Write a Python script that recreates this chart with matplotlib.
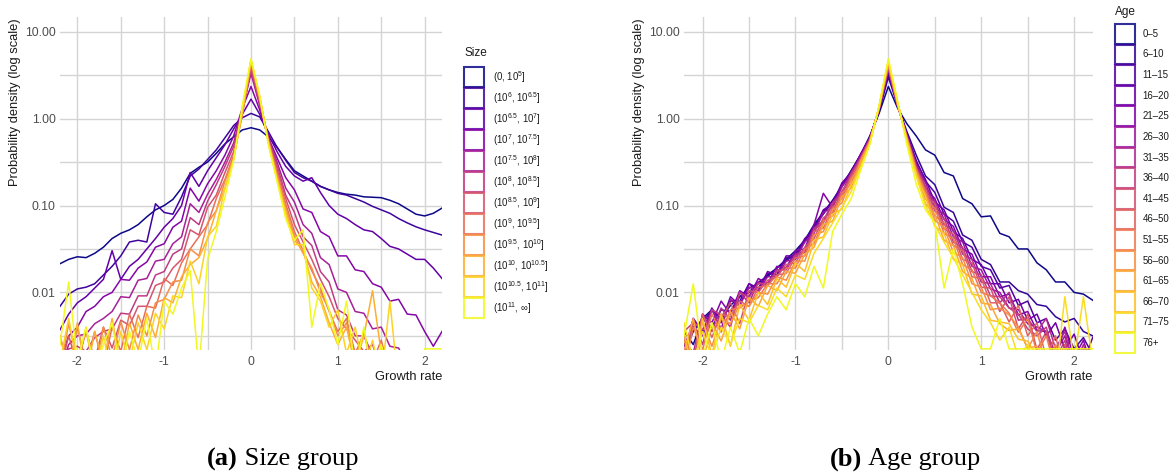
import numpy as np
import matplotlib
matplotlib.use("Agg")
import matplotlib.pyplot as plt
from matplotlib.patches import Rectangle
from matplotlib.ticker import NullFormatter

plt.rcParams['font.family'] = ['Liberation Sans', 'DejaVu Sans']
plt.rcParams['axes.unicode_minus'] = False
plt.rcParams['mathtext.default'] = 'regular'

# ---------------- data (log10 of probability density) ----------------
growth_rate = [-2.2, -2.1, -2.0, -1.9, -1.8, -1.7, -1.6, -1.5, -1.4, -1.3, -1.2,
               -1.1, -1.0, -0.9, -0.8, -0.7, -0.6, -0.5, -0.4, -0.3, -0.2, -0.1,
               0.0,
               0.1, 0.2, 0.3, 0.4, 0.5, 0.6, 0.7, 0.8, 0.9, 1.0, 1.1,
               1.2, 1.3, 1.4, 1.5, 1.6, 1.7, 1.8, 1.9, 2.0, 2.1, 2.2]

size_labels = [r'(0, 10$^{5}$]', r'(10$^{6}$, 10$^{6.5}$]', r'(10$^{6.5}$, 10$^{7}$]',
               r'(10$^{7}$, 10$^{7.5}$]', r'(10$^{7.5}$, 10$^{8}$]', r'(10$^{8}$, 10$^{8.5}$]',
               r'(10$^{8.5}$, 10$^{9}$]', r'(10$^{9}$, 10$^{9.5}$]', r'(10$^{9.5}$, 10$^{10}$]',
               r'(10$^{10}$, 10$^{10.5}$]', r'(10$^{10.5}$, 10$^{11}$]', r'(10$^{11}$, ∞]']

size_g01 = [-1.67, -1.62, -1.59, -1.60, -1.55, -1.48, -1.38, -1.32, -1.28, -1.22, -1.13,
            -1.05, -1.00, -0.93, -0.80, -0.63, -0.56, -0.50, -0.40, -0.29, -0.21, -0.13,
            -0.105,
            -0.13, -0.21, -0.33, -0.47, -0.60, -0.66, -0.72, -0.78, -0.82, -0.85, -0.87,
            -0.88, -0.90, -0.905, -0.91, -0.94, -0.98, -1.04, -1.10, -1.12, -1.09, -1.03]
size_g02 = [-2.16, -2.02, -1.96, -1.94, -1.90, -1.80, -1.70, -1.58, -1.42, -1.40, -1.42,
            -0.98, -1.08, -1.10, -0.90, -0.66, -0.58, -0.47, -0.36, -0.22, -0.08, 0.01,
            0.06,
            0.02, -0.15, -0.33, -0.48, -0.62, -0.68, -0.72, -0.78, -0.82, -0.86, -0.88,
            -0.92, -0.96, -1.01, -1.05, -1.09, -1.15, -1.20, -1.245, -1.28, -1.31, -1.34]
size_g03 = [-2.43, -2.25, -2.12, -2.05, -1.95, -1.85, -1.52, -1.85, -1.70, -1.62, -1.50,
            -1.38, -1.25, -1.15, -1.00, -0.62, -0.78, -0.60, -0.45, -0.30, -0.12, 0.05,
            0.225,
            0.05, -0.18, -0.38, -0.55, -0.66, -0.72, -0.68, -0.85, -1.00, -1.10, -1.15,
            -1.22, -1.28, -1.30, -1.38, -1.47, -1.50, -1.56, -1.62, -1.62, -1.72, -1.84]
size_g04 = [-2.80, -2.50, -2.40, -2.22, -2.16, -2.05, -2.00, -1.85, -1.86, -1.72, -1.65,
            -1.48, -1.44, -1.25, -1.18, -0.80, -0.95, -0.75, -0.60, -0.42, -0.20, 0.12,
            0.37,
            0.10, -0.22, -0.45, -0.68, -0.82, -1.04, -1.08, -1.30, -1.36, -1.58, -1.58,
            -1.74, -1.76, -1.90, -1.94, -2.10, -2.08, -2.25, -2.26, -2.45, -2.62, -2.45]
size_g05 = [-2.90, -2.60, -2.50, -2.48, -2.36, -2.30, -2.22, -2.05, -2.06, -1.86, -1.84,
            -1.64, -1.62, -1.44, -1.36, -0.98, -1.08, -0.87, -0.70, -0.50, -0.28, 0.10,
            0.52,
            0.15, -0.22, -0.50, -0.80, -0.96, -1.22, -1.32, -1.60, -1.68, -1.96, -2.00,
            -2.22, -2.24, -2.42, -2.40, -2.62, -2.64, -2.84, -2.95, -3.10, -3.20, -3.30]
size_g06 = [-3.00, -2.65, -2.62, -2.68, -2.52, -2.45, -2.42, -2.24, -2.25, -2.04, -2.04,
            -1.80, -1.76, -1.56, -1.50, -1.14, -1.22, -0.95, -0.76, -0.55, -0.32, 0.08,
            0.56,
            0.18, -0.22, -0.54, -0.88, -1.08, -1.36, -1.46, -1.76, -1.88, -2.20, -2.26,
            -2.50, -2.50, -2.72, -2.76, -3.00, -3.10, -3.20, -3.30, -3.40, -3.50, -3.60]
size_g07 = [-2.90, -2.50, -2.84, -2.44, -2.78, -2.40, -2.64, -2.32, -2.38, -2.16, -2.16,
            -1.92, -1.88, -1.72, -1.62, -1.28, -1.34, -1.02, -0.88, -0.62, -0.38, 0.06,
            0.60,
            0.20, -0.24, -0.58, -0.92, -1.22, -1.42, -1.62, -1.85, -2.05, -2.30, -2.42,
            -2.55, -2.68, -2.60, -2.90, -3.10, -3.20, -3.30, -3.40, -3.50, -3.60, -3.70]
size_g08 = [-2.50, -2.88, -2.40, -2.82, -2.45, -2.86, -2.40, -2.68, -2.25, -2.52, -2.16,
            -2.18, -1.84, -1.92, -1.66, -1.50, -1.36, -1.22, -0.92, -0.70, -0.42, 0.05,
            0.64,
            0.22, -0.25, -0.62, -0.98, -1.30, -1.52, -1.75, -1.95, -2.22, -2.45, -2.30,
            -2.70, -2.48, -2.80, -2.55, -2.95, -3.20, -3.30, -3.40, -3.50, -3.60, -3.70]
size_g09 = [-2.90, -2.36, -2.78, -2.44, -2.92, -2.40, -2.76, -2.34, -2.66, -2.26, -2.50,
            -2.12, -2.08, -1.88, -1.86, -1.50, -1.58, -1.20, -1.06, -0.72, -0.45, 0.05,
            0.655,
            0.23, -0.26, -0.65, -1.02, -1.35, -1.55, -1.72, -2.00, -2.20, -2.50, -2.35,
            -2.75, -2.45, -2.90, -3.10, -3.20, -3.30, -3.40, -3.50, -3.60, -3.70, -3.80]
size_g10 = [-2.50, -2.92, -2.35, -2.96, -2.45, -2.82, -2.30, -2.86, -2.35, -2.66, -2.24,
            -2.52, -2.06, -2.12, -1.82, -1.68, -1.60, -1.38, -1.06, -0.80, -0.47, 0.08,
            0.67,
            0.25, -0.27, -0.68, -1.06, -1.40, -1.52, -1.88, -2.05, -2.35, -2.60, -2.40,
            -2.85, -2.50, -1.98, -2.70, -3.00, -3.10, -3.20, -3.30, -3.40, -3.50, -3.60]
size_g11 = [-2.80, -2.30, -2.82, -2.40, -2.96, -2.50, -2.96, -2.45, -2.80, -2.35, -2.66,
            -2.24, -2.42, -2.04, -2.06, -1.64, -1.90, -1.36, -1.24, -0.80, -0.47, 0.10,
            0.68,
            0.26, -0.28, -0.70, -1.10, -1.45, -1.45, -1.95, -2.10, -2.40, -2.20, -2.70,
            -2.40, -2.90, -2.55, -3.00, -2.10, -3.10, -3.20, -3.30, -3.40, -3.50, -3.60]
size_g12 = [-2.60, -1.88, -2.80, -2.40, -2.90, -2.60, -2.35, -2.90, -2.45, -2.80, -2.30,
            -2.90, -2.10, -2.25, -1.95, -1.75, -2.90, -1.62, -1.30, -0.90, -0.48, 0.15,
            0.69,
            0.26, -0.30, -0.72, -1.15, -1.40, -1.28, -2.40, -1.90, -2.20, -2.60, -2.10,
            -2.90, -2.40, -3.00, -2.60, -3.00, -3.10, -3.20, -3.30, -2.65, -2.65, -2.65]

age_labels = ['0–5', '6–10', '11–15', '16–20', '21–25', '26–30', '31–35', '36–40',
              '41–45', '46–50', '51–55', '56–60', '61–65', '66–70', '71–75', '76+']

age_g01 = [-2.45, -2.60, -2.30, -2.20, -2.30, -2.15, -2.05, -1.95, -1.90, -1.80, -1.72,
           -1.62, -1.52, -1.40, -1.22, -1.08, -0.94, -0.78, -0.60, -0.42, -0.20, 0.06,
           0.37,
           0.12, -0.06, -0.20, -0.36, -0.42, -0.62, -0.66, -0.92, -0.98, -1.13, -1.12,
           -1.32, -1.36, -1.50, -1.50, -1.66, -1.74, -1.88, -1.88, -2.00, -2.02, -2.09]
age_g02 = [-2.70, -2.45, -2.30, -2.40, -2.20, -2.22, -2.05, -2.00, -1.88, -1.82, -1.72,
           -1.64, -1.55, -1.42, -1.24, -1.10, -0.95, -0.77, -0.60, -0.42, -0.22, 0.08,
           0.48,
           0.15, -0.15, -0.42, -0.66, -0.76, -1.02, -1.08, -1.34, -1.40, -1.62, -1.68,
           -1.88, -1.88, -1.98, -2.02, -2.14, -2.16, -2.28, -2.34, -2.30, -2.45, -2.50]
age_g03 = [-2.60, -2.40, -2.35, -2.20, -2.30, -2.10, -2.10, -1.90, -1.95, -1.78, -1.80,
           -1.60, -1.60, -1.40, -1.28, -1.06, -0.98, -0.76, -0.62, -0.42, -0.22, 0.10,
           0.52,
           0.15, -0.18, -0.48, -0.72, -0.85, -1.10, -1.18, -1.42, -1.48, -1.70, -1.74,
           -1.95, -1.92, -2.15, -2.10, -2.35, -2.30, -2.55, -2.42, -2.65, -2.52, -2.72]
age_g04 = [-2.80, -2.30, -2.45, -2.18, -2.35, -2.05, -2.15, -1.90, -1.98, -1.76, -1.80,
           -1.58, -1.58, -1.38, -1.28, -1.05, -0.98, -0.74, -0.62, -0.41, -0.22, 0.10,
           0.54,
           0.16, -0.19, -0.50, -0.70, -0.96, -1.05, -1.30, -1.38, -1.62, -1.68, -1.90,
           -1.90, -2.12, -2.08, -2.32, -2.25, -2.50, -2.35, -2.65, -2.48, -2.80, -2.52]
age_g05 = [-2.55, -2.70, -2.25, -2.35, -2.10, -2.25, -1.98, -2.05, -1.84, -1.90, -1.70,
           -1.72, -1.52, -1.50, -1.22, -0.86, -1.02, -0.78, -0.64, -0.43, -0.23, 0.11,
           0.56,
           0.16, -0.19, -0.52, -0.80, -0.92, -1.16, -1.24, -1.50, -1.56, -1.82, -1.82,
           -2.05, -2.02, -2.26, -2.22, -2.44, -2.45, -2.75, -2.40, -2.75, -2.55, -2.90]
age_g06 = [-2.70, -2.30, -2.50, -2.20, -2.42, -2.08, -2.15, -1.94, -1.98, -1.82, -1.82,
           -1.64, -1.62, -1.42, -1.32, -1.08, -1.02, -0.78, -0.65, -0.43, -0.23, 0.11,
           0.57,
           0.16, -0.20, -0.53, -0.74, -1.02, -1.10, -1.36, -1.42, -1.70, -1.74, -1.96,
           -2.00, -2.18, -2.20, -2.36, -2.40, -2.45, -2.70, -2.50, -2.85, -2.65, -3.00]
age_g07 = [-2.60, -2.80, -2.25, -2.45, -2.18, -2.32, -2.00, -2.12, -1.88, -1.92, -1.74,
           -1.74, -1.56, -1.52, -1.26, -1.18, -0.96, -0.85, -0.62, -0.46, -0.24, 0.11,
           0.58,
           0.15, -0.20, -0.54, -0.84, -0.95, -1.22, -1.28, -1.56, -1.62, -1.88, -1.90,
           -2.12, -2.00, -2.32, -2.30, -2.45, -2.30, -2.65, -2.45, -2.85, -2.60, -2.95]
age_g08 = [-2.45, -2.35, -2.60, -2.20, -2.26, -2.40, -2.00, -2.06, -1.90, -1.90, -1.76,
           -1.72, -1.58, -1.54, -1.28, -1.20, -0.98, -0.88, -0.64, -0.47, -0.24, 0.11,
           0.59,
           0.15, -0.21, -0.56, -0.78, -1.06, -1.15, -1.42, -1.48, -1.76, -1.80, -2.04,
           -2.05, -2.18, -2.25, -2.42, -2.50, -2.40, -2.78, -2.55, -2.95, -2.70, -3.05]
age_g09 = [-2.80, -2.35, -2.42, -2.45, -2.30, -2.12, -2.36, -1.98, -2.00, -1.86, -1.82,
           -1.68, -1.66, -1.48, -1.38, -1.14, -1.08, -0.83, -0.70, -0.46, -0.25, 0.11,
           0.60,
           0.15, -0.21, -0.57, -0.88, -0.98, -1.27, -1.33, -1.62, -1.66, -1.94, -1.95,
           -2.22, -2.05, -2.42, -2.25, -2.66, -2.45, -2.85, -2.60, -3.05, -2.75, -3.15]
age_g10 = [-2.50, -2.75, -2.25, -2.52, -2.25, -2.28, -2.10, -2.16, -1.94, -1.92, -1.80,
           -1.78, -1.60, -1.58, -1.30, -1.26, -1.02, -0.92, -0.67, -0.50, -0.25, 0.12,
           0.61,
           0.16, -0.22, -0.58, -0.82, -1.12, -1.20, -1.46, -1.52, -1.82, -1.84, -2.12,
           -2.12, -2.34, -2.15, -2.50, -2.35, -2.75, -2.50, -2.95, -2.65, -3.15, -2.85]
age_g11 = [-2.90, -2.40, -2.66, -2.25, -2.46, -2.20, -2.18, -2.10, -2.06, -1.90, -1.90,
           -1.72, -1.72, -1.50, -1.44, -1.18, -1.12, -0.86, -0.75, -0.48, -0.26, 0.12,
           0.62,
           0.16, -0.22, -0.59, -0.92, -1.03, -1.32, -1.38, -1.68, -1.74, -2.00, -2.04,
           -2.12, -2.24, -2.46, -2.30, -2.70, -2.50, -2.90, -2.65, -3.05, -2.80, -3.25]
age_g12 = [-2.55, -2.86, -2.34, -2.62, -2.30, -2.36, -2.14, -2.16, -2.00, -2.02, -1.82,
           -1.86, -1.64, -1.64, -1.34, -1.30, -1.05, -0.97, -0.70, -0.54, -0.27, 0.13,
           0.64,
           0.17, -0.23, -0.60, -0.86, -1.17, -1.25, -1.54, -1.60, -1.90, -1.94, -2.20,
           -2.18, -2.26, -2.40, -2.65, -2.45, -2.85, -2.60, -3.00, -2.75, -3.15, -2.95]
age_g13 = [-2.70, -2.30, -2.82, -2.35, -2.56, -2.22, -2.42, -2.06, -2.16, -1.92, -1.98,
           -1.76, -1.78, -1.56, -1.48, -1.22, -1.18, -0.90, -0.80, -0.50, -0.27, 0.13,
           0.65,
           0.18, -0.24, -0.62, -0.98, -1.10, -1.40, -1.46, -1.76, -1.84, -2.12, -2.14,
           -2.36, -2.44, -2.42, -2.64, -2.62, -2.84, -2.76, -2.95, -2.95, -3.15, -3.15]
age_g14 = [-2.45, -2.96, -2.30, -2.72, -2.25, -2.62, -2.14, -2.32, -2.00, -2.14, -1.84,
           -1.94, -1.66, -1.76, -1.40, -1.36, -1.10, -1.04, -0.76, -0.58, -0.28, 0.14,
           0.66,
           0.18, -0.25, -0.64, -0.90, -1.24, -1.32, -1.62, -1.68, -2.02, -2.04, -2.32,
           -2.34, -2.36, -2.54, -2.56, -2.74, -2.76, -2.94, -2.90, -3.05, -3.05, -3.15]
age_g15 = [-2.35, -2.80, -2.45, -2.75, -2.40, -2.60, -2.30, -2.35, -2.15, -2.20, -1.95,
           -2.05, -1.80, -1.85, -1.55, -1.38, -1.20, -1.02, -0.84, -0.56, -0.29, 0.14,
           0.67,
           0.19, -0.26, -0.66, -1.00, -1.22, -1.42, -1.60, -1.80, -2.00, -2.20, -2.35,
           -2.55, -2.40, -2.75, -2.60, -2.90, -2.75, -3.00, -2.05, -2.80, -2.05, -2.80]
age_g16 = [-2.50, -1.90, -2.75, -2.35, -2.80, -2.40, -2.70, -2.30, -2.50, -2.25, -2.05,
           -2.20, -1.90, -2.05, -1.70, -1.95, -1.30, -1.10, -0.92, -0.60, -0.30, 0.15,
           0.69,
           0.20, -0.30, -0.75, -1.05, -1.20, -1.95, -1.50, -1.90, -2.40, -2.65, -2.65,
           -2.30, -2.65, -2.65, -2.65, -2.65, -2.65, -2.65, -2.65, -2.65, -2.65, -2.65]

size_series = [size_g01, size_g02, size_g03, size_g04, size_g05, size_g06,
               size_g07, size_g08, size_g09, size_g10, size_g11, size_g12]
age_series = [age_g01, age_g02, age_g03, age_g04, age_g05, age_g06, age_g07, age_g08,
              age_g09, age_g10, age_g11, age_g12, age_g13, age_g14, age_g15, age_g16]

# ---------------- figure ----------------
W, H = 1169, 472
fig = plt.figure(figsize=(W / 100, H / 100), dpi=100)


def fx(px):
    return px / W


def fy(py):
    return 1 - py / H


AX_TOP, AX_BOT = 16.7, 350.0
GRID_C = '#d4d4d4'
TICK_C = '#4d4d4d'


def make_axes(left_px, right_px):
    ax = fig.add_axes([fx(left_px), fy(AX_BOT), (right_px - left_px) / W,
                       (AX_BOT - AX_TOP) / H])
    ax.set_yscale('log')
    ax.set_xlim(-2.2, 2.2)
    ax.set_ylim(10 ** -2.663, 10 ** 1.173)
    for s in ax.spines.values():
        s.set_visible(False)
    ax.set_xticks([-2, -1, 0, 1, 2])
    ax.set_xticklabels(['-2', '-1', '0', '1', '2'])
    ax.set_xticks([-1.5, -0.5, 0.5, 1.5], minor=True)
    ax.set_yticks([0.01, 0.1, 1, 10])
    ax.set_yticklabels(['0.01', '0.10', '1.00', '10.00'])
    ax.set_yticks([10 ** -2.5, 10 ** -1.5, 10 ** -0.5, 10 ** 0.5], minor=True)
    ax.yaxis.set_minor_formatter(NullFormatter())
    ax.tick_params(which='both', length=0)
    ax.tick_params(axis='both', which='major', labelsize=8.8, labelcolor=TICK_C)
    ax.tick_params(axis='x', pad=4)
    ax.tick_params(axis='y', pad=3)
    ax.grid(which='both', color=GRID_C, lw=1.0)
    ax.set_axisbelow(True)
    return ax


def legend(title, labels, colors, x_px, title_y, top0, step, hgt, label_x):
    fig.text(fx(x_px), fy(title_y), title, fontsize=8.5, color='#1a1a1a',
             ha='left', va='center')
    for i, (lab, c) in enumerate(zip(labels, colors)):
        top = top0 + i * step
        fig.patches.append(Rectangle((fx(x_px), fy(top + hgt)), 20 / W, hgt / H,
                                     transform=fig.transFigure, facecolor='white',
                                     edgecolor=c, lw=1.5, alpha=0.85))
        fig.text(fx(label_x), fy(top + hgt / 2), lab, fontsize=6.9, color='#1a1a1a',
                 ha='left', va='center')


def draw_panel(left_px, right_px, series, cmap_n, ylab_x):
    ax = make_axes(left_px, right_px)
    colors = plt.get_cmap('plasma')(np.linspace(0, 1, cmap_n))
    for vals, c in zip(series, colors):
        ax.plot(growth_rate, 10 ** np.array(vals), color=c, lw=1.1,
                solid_joinstyle='round')
    fig.text(fx(right_px), fy(377), 'Growth rate', fontsize=9.3, color='#1a1a1a',
             ha='right', va='center')
    fig.text(fx(ylab_x), fy(101.7), 'Probability density (log scale)', fontsize=9.3,
             color='#1a1a1a', rotation=90, ha='center', va='center')
    return ax, colors


ax1, c1 = draw_panel(60, 442, size_series, 12, 15)
ax2, c2 = draw_panel(684, 1092.7, age_series, 16, 639)

legend('Size', size_labels, c1, 464.3, 53, 67.3, 21.0, 19.4, 492.7)
legend('Age', age_labels, c2, 1115, 11.5, 24.0, 20.62, 19.6, 1142.7)

# captions
renderer = fig.canvas.get_renderer()


def caption(cx_px, cy_px, tag, text):
    t1 = fig.text(0, fy(cy_px), tag, fontsize=19, family='Liberation Serif',
                  weight='bold', ha='left', va='center')
    t2 = fig.text(0, fy(cy_px), ' ' + text, fontsize=19, family='Liberation Serif',
                  ha='left', va='center')
    w1 = t1.get_window_extent(renderer).width
    w2 = t2.get_window_extent(renderer).width
    x0 = cx_px - (w1 + w2) / 2
    t1.set_x(fx(x0))
    t2.set_x(fx(x0 + w1))


caption(283, 459, '(a)', 'Size group')
caption(905, 459, '(b)', 'Age group')

fig.savefig('out.png', dpi=100)
